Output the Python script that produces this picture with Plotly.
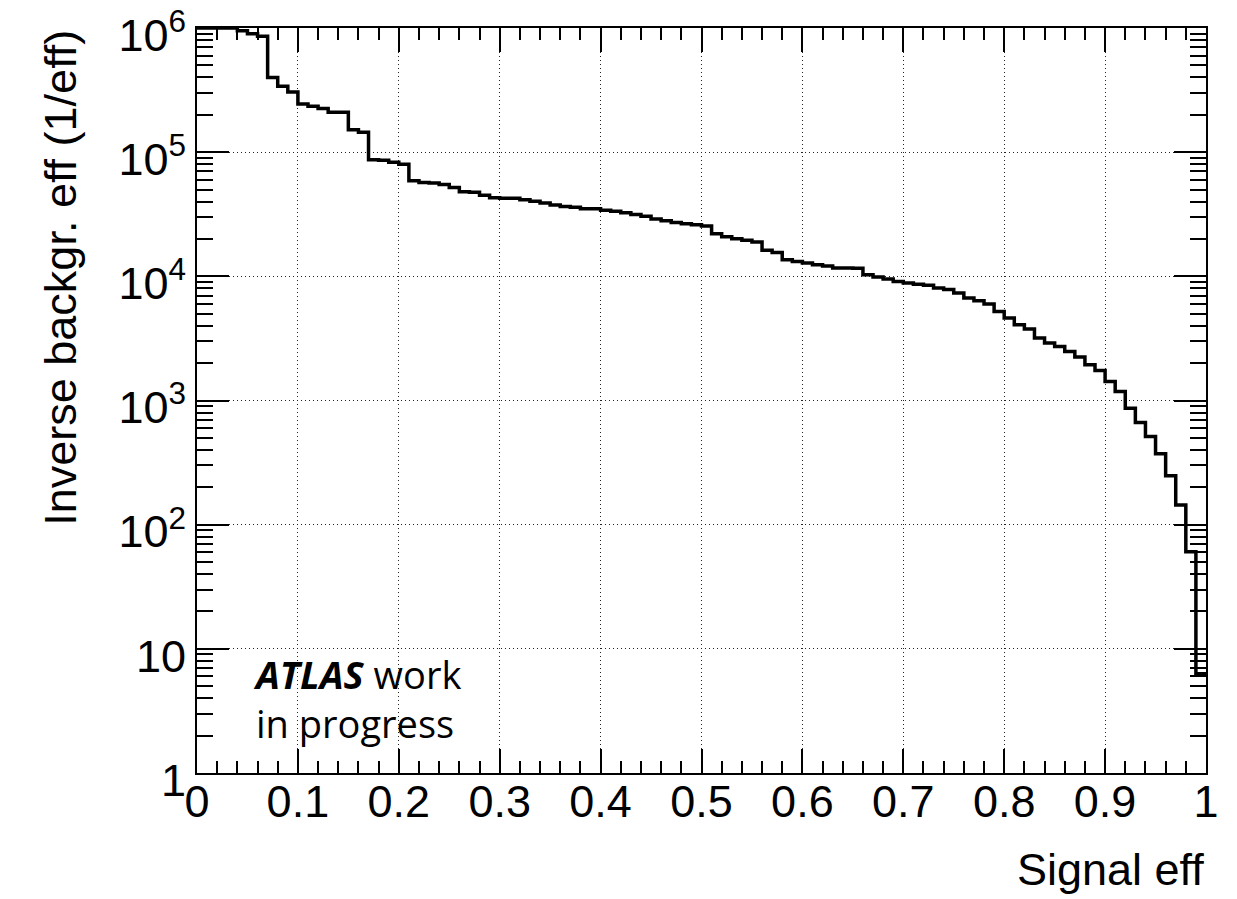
import plotly.graph_objects as go

# Signal efficiency bin lower edges (bins of 0.01) and inverse background efficiency
sig_eff = [round(i * 0.01, 2) for i in range(100)] + [1.0]
inv_bkg = [
    1.0e6, 1.0e6, 1.0e6, 1.0e6, 9.5e5, 9.0e5, 8.6e5, 4.0e5, 3.4e5, 3.05e5,
    2.45e5, 2.35e5, 2.25e5, 2.1e5, 2.1e5, 1.52e5, 1.45e5, 8.7e4, 8.6e4, 8.3e4,
    8.0e4, 5.9e4, 5.7e4, 5.65e4, 5.5e4, 5.2e4, 4.8e4, 4.75e4, 4.5e4, 4.3e4,
    4.25e4, 4.25e4, 4.15e4, 4.03e4, 3.9e4, 3.75e4, 3.65e4, 3.6e4, 3.5e4, 3.5e4,
    3.4e4, 3.35e4, 3.25e4, 3.15e4, 3.05e4, 2.9e4, 2.8e4, 2.72e4, 2.65e4, 2.6e4,
    2.55e4, 2.2e4, 2.08e4, 2.01e4, 1.95e4, 1.89e4, 1.62e4, 1.56e4, 1.36e4, 1.32e4,
    1.28e4, 1.24e4, 1.21e4, 1.17e4, 1.17e4, 1.16e4, 1.03e4, 9.9e3, 9.5e3, 9.1e3,
    8850, 8650, 8460, 8060, 7820, 7350, 6700, 6370, 5990, 5220,
    4620, 4080, 3770, 3190, 2900, 2725, 2485, 2240, 1940, 1745,
    1423, 1182, 868, 665, 512, 372, 248, 144, 60.6, 6.3,
]
inv_bkg_steps = inv_bkg + [inv_bkg[-1]]

x_tick_vals = [0, 0.1, 0.2, 0.3, 0.4, 0.5, 0.6, 0.7, 0.8, 0.9, 1]
x_tick_text = ["0", "0.1", "0.2", "0.3", "0.4", "0.5", "0.6", "0.7", "0.8", "0.9", "1"]
y_tick_vals = [1, 10, 100, 1000, 1e4, 1e5, 1e6]
y_tick_text = ["1", "10", "10<sup>2</sup>", "10<sup>3</sup>", "10<sup>4</sup>",
               "10<sup>5</sup>", "10<sup>6</sup>"]

x_title = "Signal eff"
y_title = "Inverse backgr. eff (1/eff)"

FONT = "Liberation Sans, Arial, Helvetica, sans-serif"
FS = 45

fig = go.Figure()
fig.add_trace(go.Scatter(
    x=sig_eff, y=inv_bkg_steps, mode="lines", line_shape="hv",
    line=dict(color="black", width=3.5), showlegend=False, hoverinfo="x+y",
))

fig.update_layout(
    width=1237, height=899,
    margin=dict(l=197, r=31, t=28, b=126, autoexpand=False),
    paper_bgcolor="white", plot_bgcolor="white",
    font=dict(family=FONT, size=FS, color="black"),
)

fig.update_xaxes(
    range=[0, 1], tickmode="array", tickvals=x_tick_vals, ticktext=x_tick_text,
    ticks="inside", ticklen=24, tickwidth=2, tickcolor="black",
    showline=True, linecolor="black", linewidth=2, mirror="allticks",
    showgrid=True, gridcolor="#222", gridwidth=1, griddash="1px,3px",
    zeroline=False, ticklabelstandoff=-12, ticklabeloverflow="allow", automargin=False,
    minor=dict(dtick=0.02, ticks="inside", ticklen=12, tickwidth=2,
               tickcolor="black", showgrid=False),
    tickfont=dict(family=FONT, size=FS),
)

fig.update_yaxes(
    type="log", range=[-0.0005, 6.0005], tickmode="array", tickvals=y_tick_vals,
    ticktext=y_tick_text, ticklabeloverflow="allow", automargin=False,
    ticklabelshift=7,
    ticks="inside", ticklen=32, tickwidth=2, tickcolor="black",
    showline=True, linecolor="black", linewidth=2, mirror="allticks",
    showgrid=True, gridcolor="#222", gridwidth=1, griddash="1px,3px",
    zeroline=False,
    minor=dict(dtick="D1", ticks="inside", ticklen=16, tickwidth=2,
               tickcolor="black", showgrid=False),
    tickfont=dict(family=FONT, size=FS),
)

fig.add_annotation(
    text=x_title, xref="paper", yref="paper", x=1.0, y=-0.13,
    xanchor="right", yanchor="middle", showarrow=False,
    font=dict(family=FONT, size=FS),
)
fig.add_annotation(
    text=y_title, xref="paper", yref="paper", x=-0.136, y=1.0,
    xanchor="center", yanchor="top", textangle=-90, showarrow=False,
    font=dict(family=FONT, size=FS),
)
fig.add_annotation(
    text="<b><i>ATLAS</i></b> work<br>in progress", xref="paper", yref="paper",
    x=0.054, y=0.1, xanchor="left", yanchor="middle", align="left",
    showarrow=False, font=dict(family="Open Sans, Lato, sans-serif", size=38, color="black"),
)

fig.write_html("out.html")
